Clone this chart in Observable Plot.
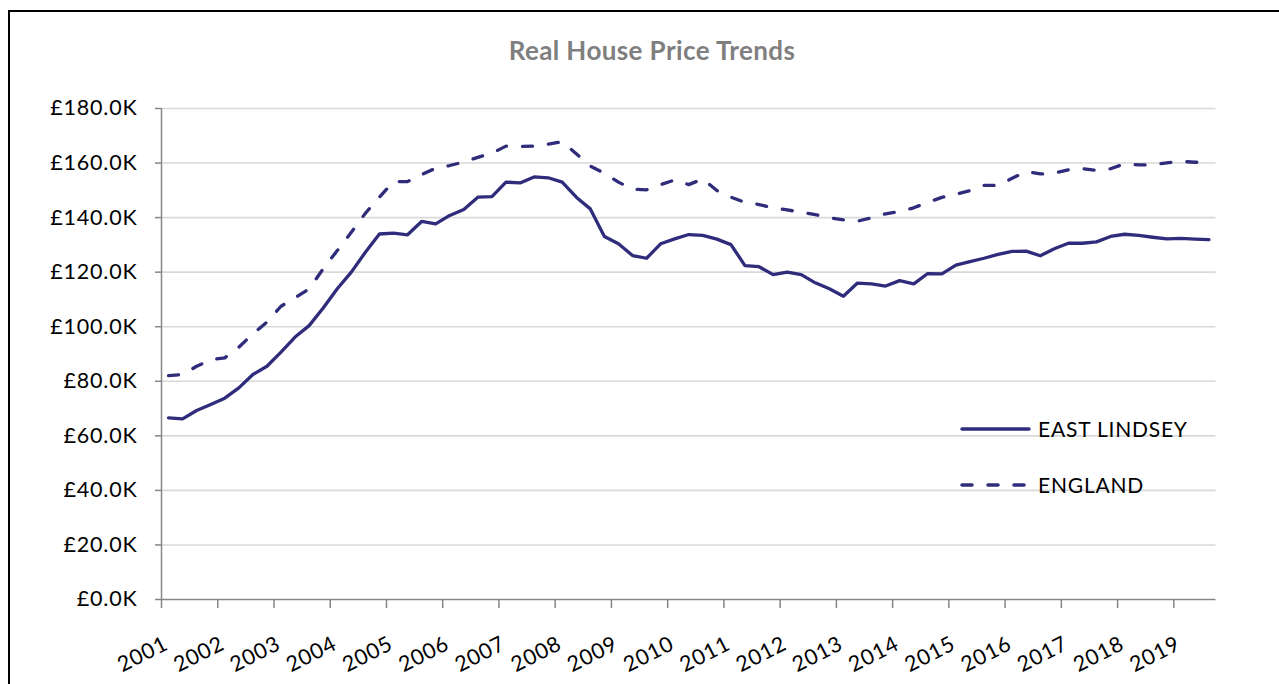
<!DOCTYPE html>
<html>
<head>
<meta charset="utf-8">
<script src="https://cdn.jsdelivr.net/npm/d3@7"></script>
<script src="https://cdn.jsdelivr.net/npm/@observablehq/plot@0.6"></script>
<style>
  html, body { margin: 0; padding: 0; background: #fff; }
  #wrap { position: relative; width: 1279px; height: 684px; overflow: hidden; font-family: Lato, "Open Sans", sans-serif; }
  #border { position: absolute; left: 8px; top: 10px; width: 1300px; height: 720px; border: 2px solid #000; box-sizing: border-box; pointer-events: none; }
  #title { height: 80px; position: relative; }
  #title span { position: absolute; left: 652px; top: 35px; transform: translateX(-50%); font-weight: 700; font-size: 26px; color: #7f7f7f; letter-spacing: 0.4px; white-space: nowrap; line-height: 30px; }
  #chart svg text { letter-spacing: 0.8px; }
  .leg { position: absolute; display: flex; align-items: center; gap: 6px; font-size: 21px; letter-spacing: 0.8px; color: #000; line-height: 26px; }
  .leg svg { display: block; }
</style>
</head>
<body>
<div id="wrap">
  <div id="title"><span>Real House Price Trends</span></div>
  <div id="chart"></div>
  <div id="legend"></div>
  <div id="border"></div>
</div>
<script>
// Quarterly real house prices (£K), 2001 Q1 – 2019 Q3
const startYear = 2001;
const seriesNames = ["EAST LINDSEY", "ENGLAND"];
const eastLindsey = [
  66.6, 66.2, 69.3, 71.5, 73.8, 77.6, 82.5, 85.5, 90.7, 96.2,
  100.4, 106.9, 113.9, 120.0, 127.3, 134.0, 134.3, 133.7, 138.6, 137.7,
  140.8, 143.0, 147.5, 147.7, 153.0, 152.7, 154.9, 154.6, 153.0, 147.5,
  143.2, 133.1, 130.4, 126.1, 125.1, 130.4, 132.2, 133.8, 133.5, 132.1,
  130.1, 122.4, 122.0, 119.1, 120.0, 119.1, 116.1, 113.9, 111.2, 116.0,
  115.7, 114.9, 116.9, 115.7, 119.5, 119.4, 122.6, 123.9, 125.1, 126.5,
  127.6, 127.7, 126.0, 128.6, 130.6, 130.6, 131.1, 133.1, 133.9, 133.5,
  132.8, 132.2, 132.4, 132.1, 131.9
];
const england = [
  82.1, 82.5, 85.5, 87.9, 88.6, 92.5, 97.4, 101.7, 107.5, 110.6,
  113.9, 121.2, 127.9, 134.6, 141.6, 147.5, 153.2, 153.2, 155.8, 158.1,
  159.1, 160.4, 162.1, 163.6, 166.2, 166.1, 166.2, 166.9, 167.8, 163.4,
  158.9, 156.3, 153.0, 150.4, 150.2, 152.1, 153.8, 152.1, 154.2, 149.9,
  147.5, 145.6, 144.8, 143.6, 142.8, 142.0, 141.1, 139.9, 139.2, 138.7,
  139.9, 141.4, 142.2, 143.6, 145.6, 147.4, 148.6, 149.9, 151.8, 151.8,
  154.4, 156.9, 156.0, 156.3, 157.5, 157.9, 157.3, 157.9, 159.7, 159.3,
  159.3, 160.1, 160.6, 160.3, 160.2
];
const yearTicks = [2001, 2002, 2003, 2004, 2005, 2006, 2007, 2008, 2009, 2010,
  2011, 2012, 2013, 2014, 2015, 2016, 2017, 2018, 2019];
const yTicks = [0, 20, 40, 60, 80, 100, 120, 140, 160, 180];

const lineColor = "#2F2C7B";
const toRows = (vals, name) => vals.map((v, i) => ({ x: startYear + (i + 0.5) / 4, value: v, series: name }));
const elRows = toRows(eastLindsey, seriesNames[0]);
const enRows = toRows(england, seriesNames[1]);

const chart = Plot.plot({
  width: 1279,
  height: 604,
  marginTop: 28,
  marginBottom: 85,
  marginLeft: 161,
  marginRight: 63.5,
  style: { fontFamily: "Lato, 'Open Sans', sans-serif", fontSize: "21px", background: "white", overflow: "visible", color: "black" },
  x: { domain: [startYear, 2019.75] },
  y: { domain: [0, 180] },
  marks: [
    Plot.gridY(yTicks.filter(d => d > 0), { stroke: "#D9D9D9", strokeOpacity: 1, strokeWidth: 1.6 }),
    Plot.axisY({ ticks: yTicks, tickSize: 6, tickPadding: 18, tickFormat: d => `£${d.toFixed(1)}K`,
      stroke: "#868686", strokeWidth: 1.5, fill: "black", fontSize: 21.5, label: null }),
    Plot.axisX({ ticks: yearTicks, tickSize: 9, tickFormat: () => "", stroke: "#868686", strokeWidth: 1.5, label: null }),
    Plot.text(yearTicks, { x: d => d, y: () => 0, text: d => String(d), rotate: -27,
      textAnchor: "end", lineAnchor: "bottom", dx: 8, dy: 49, fontSize: 21.5, fill: "black" }),
    Plot.ruleY([0], { stroke: "#868686", strokeWidth: 1.5 }),
    Plot.ruleX([startYear], { stroke: "#868686", strokeWidth: 1.5 }),
    Plot.line(enRows, { x: "x", y: "value", stroke: lineColor, strokeWidth: 3.3,
      strokeDasharray: "10,16", strokeLinecap: "round", strokeLinejoin: "round" }),
    Plot.line(elRows, { x: "x", y: "value", stroke: lineColor, strokeWidth: 3.3,
      strokeLinecap: "round", strokeLinejoin: "round" })
  ]
});
document.getElementById("chart").appendChild(chart);

// Legend (drawn over the plot area, as in the original)
const legend = document.getElementById("legend");
const legendItems = [
  { name: seriesNames[0], dash: null, top: 416 },
  { name: seriesNames[1], dash: "10,16", top: 472 }
];
for (const item of legendItems) {
  const div = document.createElement("div");
  div.className = "leg";
  div.style.left = "960px";
  div.style.top = item.top + "px";
  div.innerHTML = `<svg width="72" height="26"><line x1="2" x2="69" y1="13" y2="13" stroke="${lineColor}" stroke-width="3.5" stroke-linecap="round" ${item.dash ? `stroke-dasharray="${item.dash}"` : ""}/></svg><span>${item.name}</span>`;
  legend.appendChild(div);
}
</script>
</body>
</html>
